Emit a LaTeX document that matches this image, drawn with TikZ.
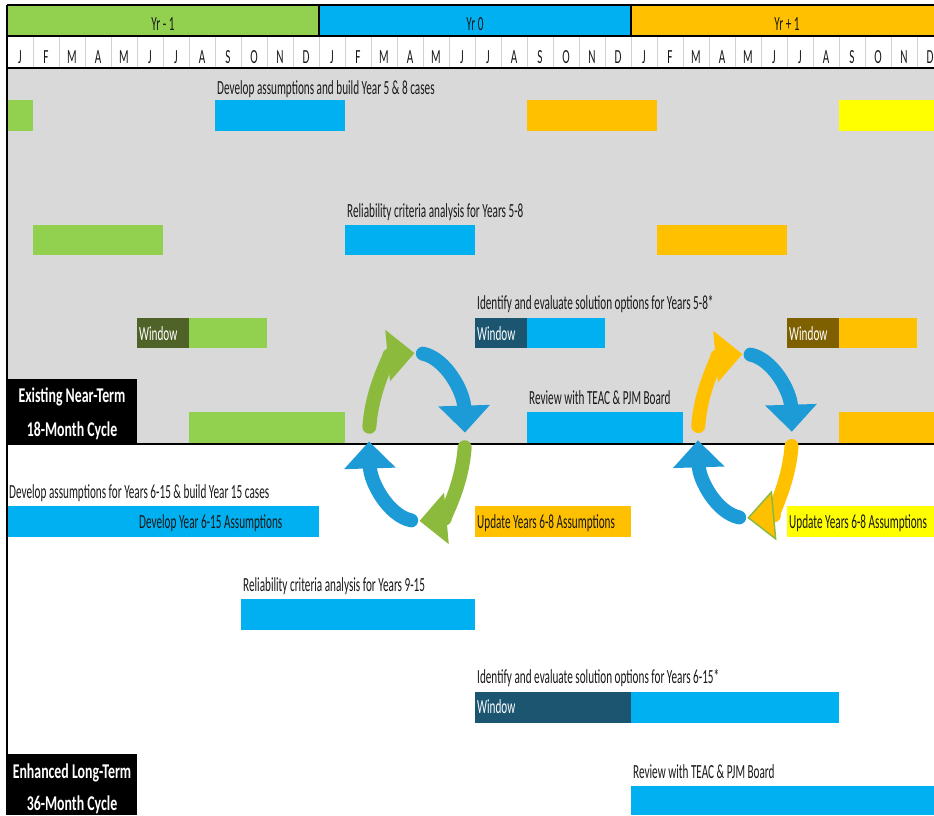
\documentclass[tikz,border=0pt]{standalone}
\usepackage{fontspec}
\setmainfont{Carlito}[FakeStretch=0.56]
\newfontfamily\cyclefont{Carlito}[FakeStretch=0.66]
\usepackage{tikz}
\usetikzlibrary{arrows.meta}
\definecolor{vert}{HTML}{92D050}
\definecolor{bleu}{HTML}{00B0F0}
\definecolor{orangeA}{HTML}{FFC000}
\definecolor{jaune}{HTML}{FFFF00}
\definecolor{gris}{HTML}{D9D9D9}
\definecolor{vertfonce}{HTML}{4F6228}
\definecolor{bleufonce}{HTML}{1B5570}
\definecolor{brun}{HTML}{7F6000}
\definecolor{flvert}{HTML}{8BBA3D}
\definecolor{flbleu}{HTML}{1C9BD7}

\begin{document}
\begin{tikzpicture}[x=26pt,y=-1pt,
  txt/.style={font=\fontsize{20}{22}\selectfont,text=black!90,inner sep=2pt,anchor=base west},
  win/.style={txt,text=white},
  hdr/.style={font=\fontsize{20}{22}\selectfont,text=black!90,inner sep=0pt,anchor=base},
  cyc/.style={font=\cyclefont\bfseries\fontsize{21}{24}\selectfont,text=white,inner sep=0pt,anchor=base},
  fleche/.style={line width=14pt,line cap=round,-{Triangle[length=27pt,width=50pt]}}]
\useasboundingbox (-7pt,0pt) rectangle (927pt,-815pt);
\fill[white] (-7pt,0pt) rectangle (927pt,-815pt);
\clip (-7pt,0pt) rectangle (927pt,-815pt);
% En-tete
\fill[vert] (0,5) rectangle (12,36);
\fill[bleu] (12,5) rectangle (24,36);
\fill[orangeA] (24,5) rectangle (36,36);
\node[hdr] (an1) at (6,30) {Yr - 1};
\node[hdr] (an2) at (18,30) {Yr 0};
\node[hdr] (an3) at (30,30) {Yr + 1};
\foreach \i in {1,...,35} \draw[gray!35] (\i,36) -- (\i,68);
\foreach \m [count=\i from 0] in {J,F,M,A,M,J,J,A,S,O,N,D,J,F,M,A,M,J,J,A,S,O,N,D,J,F,M,A,M,J,J,A,S,O,N,D}
  \node[hdr] (m\i) at (\i+0.5,63) {\m};
\draw[line width=2pt] (0,5) -- (36,5);
\draw[line width=1.5pt] (0,36) -- (36,36);
\draw[line width=1.5pt] (12,5) -- (12,36) (24,5) -- (24,36);
% Cycle 18 mois
\fill[gris] (0,68) rectangle (36,444);
\draw[line width=2.5pt] (0,68) -- (36,68);
\fill[vert] (0,100) rectangle (1,131);
\fill[bleu] (8,100) rectangle (13,131);
\fill[orangeA] (20,100) rectangle (25,131);
\fill[jaune] (32,100) rectangle (36,131);
\node[txt] (e1) at (8,94) {Develop assumptions and build Year 5 \& 8 cases};
\fill[vert] (1,225) rectangle (6,255);
\fill[bleu] (13,225) rectangle (18,255);
\fill[orangeA] (25,225) rectangle (30,255);
\node[txt] (e2) at (13,217) {Reliability criteria analysis for Years 5-8};
\fill[vertfonce] (5,318) rectangle (7,348);
\fill[vert] (7,318) rectangle (10,348);
\fill[bleufonce] (18,318) rectangle (20,348);
\fill[bleu] (20,318) rectangle (23,348);
\fill[brun] (30,318) rectangle (32,348);
\fill[orangeA] (32,318) rectangle (35,348);
\node[win] (w1) at (5,340) {Window};
\node[win] (w2) at (18,340) {Window};
\node[win] (w3) at (30,340) {Window};
\node[txt] (e3) at (18,309) {Identify and evaluate solution options for Years 5-8*};
\fill[vert] (7,412) rectangle (13,444);
\fill[bleu] (20,412) rectangle (26,444);
\fill[orangeA] (32,412) rectangle (36,444);
\node[txt] (e4) at (20,404) {Review with TEAC \& PJM Board};
\fill[black] (0,379) rectangle (5,444);
\node[cyc] (c1a) at (2.5,402) {Existing Near-Term};
\node[cyc] (c1b) at (2.5,436) {18-Month Cycle};
\draw[line width=2pt] (0,444) -- (36,444);
% Cycle 36 mois
\fill[bleu] (0,506) rectangle (12,537);
\fill[orangeA] (18,506) rectangle (24,537);
\fill[jaune] (30,506) rectangle (36,537);
\node[txt] (l1) at (0,498) {Develop assumptions for Years 6-15 \& build Year 15 cases};
\node[txt] (l1b) at (5,528) {Develop Year 6-15 Assumptions};
\node[txt] (u1) at (18,528) {Update Years 6-8 Assumptions};
\node[txt] (u2) at (30,528) {Update Years 6-8 Assumptions};
\fill[bleu] (9,599) rectangle (18,630);
\node[txt] (l2) at (9,591) {Reliability criteria analysis for Years 9-15};
\fill[bleufonce] (18,692) rectangle (24,723);
\fill[bleu] (24,692) rectangle (32,723);
\node[txt] (l3) at (18,683) {Identify and evaluate solution options for Years 6-15*};
\node[win] (w4) at (18,713) {Window};
\fill[bleu] (24,786) rectangle (36,815);
\node[txt] (l4) at (24,778) {Review with TEAC \& PJM Board};
\fill[black] (0,754) rectangle (5,815);
\node[cyc] (c2a) at (2.5,778) {Enhanced Long-Term};
\node[cyc] (c2b) at (2.5,810) {36-Month Cycle};
\draw[line width=1.5pt] (0,5) -- (0,815);
% Flèches
\begin{scope}[shift={(15.77,437)}]
\foreach \a/\b/\c in {173/93/flvert,83/3/flbleu,-7/-87/flvert,-97/-177/flbleu}
  \draw[fleche,\c] (\a:48pt and 84pt) arc[start angle=\a,end angle=\b,x radius=48pt,y radius=84pt];
\end{scope}
\begin{scope}[shift={(28.38,436)}]
\foreach \a/\b/\c in {173/93/orangeA,83/3/flbleu,-97/-177/flbleu}
  \draw[fleche,\c] (\a:47pt and 82pt) arc[start angle=\a,end angle=\b,x radius=47pt,y radius=82pt];
\draw[line width=14pt,line cap=round,orangeA,-{Triangle[length=27pt,width=50pt,color=flvert,fill=orangeA,line width=1.5pt]}]
  (-7:47pt and 82pt) arc[start angle=-7,end angle=-87,x radius=47pt,y radius=82pt];
\end{scope}
\end{tikzpicture}
\end{document}
